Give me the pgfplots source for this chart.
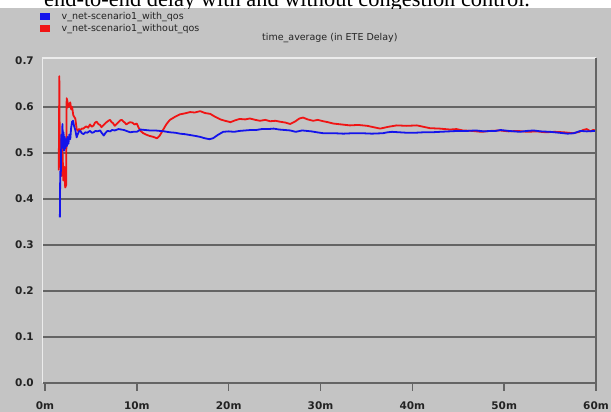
\documentclass[border=0pt]{standalone}
\usepackage{pgfplots}
\pgfplotsset{compat=1.18}
\usepackage{fontspec}
\setmainfont{Liberation Serif}
\newfontfamily\dejavu{DejaVu Sans}
\definecolor{bg}{RGB}{196,196,196}
\definecolor{gridc}{RGB}{100,100,100}
\definecolor{lite}{RGB}{236,236,236}
\definecolor{txt}{RGB}{35,35,35}
\definecolor{qblue}{RGB}{20,20,235}
\definecolor{qred}{RGB}{240,20,20}
\begin{document}
\begin{tikzpicture}[x=1pt,y=1pt]
\useasboundingbox (0,0) rectangle (611,412);
\fill[white] (0,0) rectangle (611,412);
\fill[bg] (0,0) rectangle (611,403.5);
\begin{scope}
\clip (0,403.5) rectangle (611,412);
\node[anchor=base west, inner sep=0, font=\fontsize{22.4}{24}\selectfont] at (44,405.5) {end-to-end delay with and without congestion control.};
\end{scope}
\begin{axis}[
  at={(42.7pt,29pt)}, anchor=south west,
  scale only axis, width=553.3pt, height=325pt,
  xmin=-0.25, xmax=60, ymin=0, ymax=0.7065,
  axis background/.style={fill=bg},
  axis line style={draw=none},
  xtick={0,10,20,30,40,50,60},
  xticklabels={0m,10m,20m,30m,40m,50m,60m},
  ytick={0,0.1,0.2,0.3,0.4,0.5,0.6,0.7},
  yticklabels={0.0,0.1,0.2,0.3,0.4,0.5,0.6,0.7},
  xtick pos=bottom, ytick pos=left,
  tick align=outside,
  major tick length=8pt,
  x tick style={gridc, line width=1.4pt},
  y tick style={draw=none},
  extra y ticks={0.1,0.2,0.3,0.4,0.5,0.6},
  extra y tick labels={},
  extra y tick style={ymajorgrids=true, tick style={draw=none}},
  grid style={gridc, line width=1.6pt},
  tick label style={font=\dejavu\bfseries\fontsize{10.5}{12}\selectfont, text=txt},
  yticklabel style={anchor=east, inner sep=0pt, xshift=-0.7pt},
  xticklabel style={anchor=north, inner sep=0pt, yshift=-10.5pt},
  title={time\_average (in ETE Delay)},
  title style={at={(axis description cs:0.519,1)}, anchor=base, yshift=12pt, inner sep=0pt,
    font=\dejavu\fontsize{9.5}{11}\selectfont, text=txt},
  legend style={at={(axis description cs:-0.005,1.146)}, anchor=north west, draw=none, fill=none,
    font=\dejavu\fontsize{9.5}{11}\selectfont, text=txt, inner sep=0pt, row sep=0pt,
    nodes={inner sep=1.5pt}},
  legend image code/.code={\fill[#1, draw=none] (0pt,-3.5pt) rectangle (10pt,3.5pt);
    \path[draw=none, fill=none] (0pt,0pt) -- (20pt,0pt);},
  legend cell align=left,
  reverse legend,
  after end axis/.code={
    \draw[lite, line width=1.5pt] (rel axis cs:0,0) -- (rel axis cs:0,1) -- (rel axis cs:1,1);
    \draw[gridc, line width=1.5pt] (rel axis cs:1,1) -- (rel axis cs:1,0) -- (rel axis cs:0,0);
  },
]
\addplot[qred, line width=1.8pt, line join=round] coordinates {
(1.50,0.462)(1.56,0.667)(1.62,0.47)(1.72,0.53)(1.80,0.45)(1.90,0.51)(2.00,0.44)(2.10,0.47)(2.20,0.425)(2.30,0.43)(2.36,0.619)(2.45,0.612)(2.55,0.60)(2.65,0.605)(2.75,0.61)(2.85,0.595)(2.95,0.60)(3.08,0.582)(3.2,0.578)(3.3,0.575)(3.45,0.552)(3.6,0.548)(3.7,0.552)(3.81,0.549)(4.0,0.553)(4.17,0.553)(4.35,0.556)(4.5,0.558)(4.7,0.555)(4.9,0.562)(5.1,0.557)(5.3,0.56)(5.45,0.566)(5.63,0.568)(5.8,0.563)(6.0,0.561)(6.15,0.556)(6.3,0.559)(6.5,0.563)(6.7,0.567)(6.9,0.57)(7.08,0.572)(7.25,0.567)(7.4,0.565)(7.6,0.559)(7.8,0.563)(8.0,0.567)(8.2,0.571)(8.36,0.572)(8.55,0.568)(8.7,0.566)(8.85,0.562)(9.0,0.564)(9.25,0.567)(9.5,0.566)(9.75,0.562)(9.99,0.564)(10.2,0.555)(10.4,0.548)(10.7,0.543)(11.0,0.540)(11.4,0.537)(11.8,0.535)(12.2,0.532)(12.5,0.538)(12.85,0.550)(13.2,0.562)(13.6,0.572)(14.1,0.578)(14.7,0.584)(15.2,0.586)(15.8,0.589)(16.3,0.588)(16.9,0.591)(17.4,0.587)(18.0,0.585)(18.5,0.579)(19.1,0.573)(19.6,0.570)(20.2,0.567)(20.7,0.571)(21.2,0.574)(21.8,0.573)(22.3,0.575)(22.9,0.572)(23.4,0.570)(24.0,0.572)(24.5,0.569)(25.1,0.570)(25.6,0.568)(26.2,0.566)(26.7,0.563)(27.2,0.568)(27.7,0.575)(28.1,0.577)(28.6,0.573)(29.2,0.570)(29.7,0.572)(30.3,0.569)(30.8,0.567)(31.4,0.564)(32.3,0.562)(33.2,0.560)(34.1,0.561)(35.1,0.559)(35.8,0.556)(36.5,0.553)(37.4,0.557)(38.3,0.560)(39.4,0.559)(40.5,0.560)(41.2,0.557)(41.9,0.554)(43.0,0.553)(44.1,0.551)(44.8,0.552)(45.5,0.549)(46.5,0.548)(47.5,0.546)(48.5,0.548)(49.5,0.549)(50.5,0.547)(51.5,0.548)(52.5,0.546)(53.5,0.547)(54.5,0.545)(55.5,0.546)(56.5,0.545)(57.5,0.543)(58.2,0.546)(58.6,0.550)(59.0,0.552)(59.4,0.547)(59.7,0.550)(60.0,0.549)
};
\addlegendentry{v\_net-scenario1\_without\_qos}
\addplot[qblue, line width=1.8pt, line join=round] coordinates {
(1.62,0.36)(1.66,0.46)(1.72,0.45)(1.78,0.54)(1.84,0.51)(1.90,0.563)(1.96,0.52)(2.02,0.545)(2.08,0.505)(2.15,0.535)(2.22,0.51)(2.30,0.53)(2.38,0.515)(2.46,0.535)(2.55,0.52)(2.65,0.54)(2.75,0.53)(2.85,0.555)(2.95,0.568)(3.05,0.57)(3.15,0.56)(3.3,0.55)(3.45,0.534)(3.55,0.54)(3.7,0.547)(3.85,0.548)(4.0,0.543)(4.2,0.541)(4.4,0.545)(4.6,0.544)(4.9,0.548)(5.1,0.544)(5.3,0.545)(5.5,0.548)(5.7,0.547)(6.0,0.549)(6.2,0.543)(6.4,0.538)(6.6,0.544)(6.8,0.548)(7.1,0.547)(7.3,0.550)(7.6,0.549)(8.0,0.552)(8.3,0.551)(8.6,0.550)(9.0,0.547)(9.3,0.545)(9.6,0.546)(10.0,0.546)(10.4,0.551)(10.9,0.550)(11.4,0.549)(12.0,0.549)(12.5,0.548)(13.0,0.547)(13.6,0.545)(14.2,0.544)(14.7,0.542)(15.2,0.541)(15.8,0.539)(16.4,0.537)(16.9,0.535)(17.4,0.532)(17.9,0.530)(18.3,0.532)(18.8,0.539)(19.4,0.546)(20.0,0.547)(20.6,0.546)(21.2,0.548)(21.8,0.549)(22.4,0.550)(23.0,0.550)(23.6,0.552)(24.3,0.552)(24.9,0.553)(25.5,0.551)(26.1,0.550)(26.7,0.549)(27.3,0.546)(28.0,0.549)(28.5,0.548)(29.0,0.547)(29.6,0.545)(30.3,0.543)(31.5,0.543)(32.5,0.542)(33.5,0.543)(34.5,0.543)(35.6,0.542)(36.8,0.543)(37.3,0.545)(37.8,0.546)(38.6,0.545)(39.4,0.544)(40.3,0.544)(41.2,0.545)(42.1,0.545)(43.0,0.546)(44.0,0.547)(45.0,0.548)(46.0,0.548)(46.9,0.549)(47.8,0.547)(48.5,0.548)(49.1,0.548)(49.6,0.550)(50.5,0.548)(51.7,0.546)(52.5,0.548)(53.2,0.549)(54.0,0.547)(55.0,0.546)(56.0,0.544)(56.9,0.542)(57.6,0.543)(58.3,0.548)(59.0,0.547)(60.0,0.548)
};
\addlegendentry{v\_net-scenario1\_with\_qos}
\end{axis}
\end{tikzpicture}
\end{document}
